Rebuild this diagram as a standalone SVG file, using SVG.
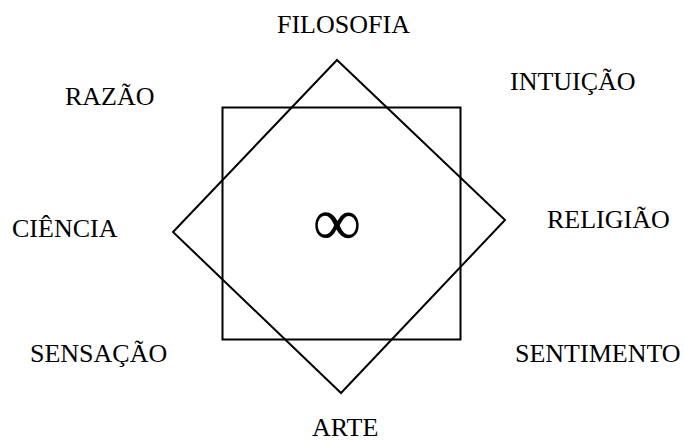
<svg xmlns="http://www.w3.org/2000/svg" width="684" height="441" viewBox="0 0 684 441">
<style>
.shape{fill:none;stroke:#000;stroke-width:2}
.lbl{font-family:"Liberation Serif","Times New Roman",serif;font-size:26px;fill:#000}
.inf{font-family:"Liberation Serif","Times New Roman",serif;font-size:68px;fill:#000;text-anchor:middle}
</style>
<rect width="684" height="441" fill="#fff"/>
<g id="shapes">
<rect id="square" class="shape" x="222.5" y="107.5" width="238" height="232"/>
<polygon id="diamond" class="shape" points="337,60 505,220 341,393 173,232"/>
</g>
<g id="center"><text class="inf" x="337" y="245">∞</text></g>
<g id="labels">
<text id="filosofia" class="lbl" x="277" y="33">FILOSOFIA</text>
<text id="razao" class="lbl" x="65" y="105">RAZÃO</text>
<text id="intuicao" class="lbl" x="510" y="90">INTUIÇÃO</text>
<text id="ciencia" class="lbl" x="12" y="237">CIÊNCIA</text>
<text id="religiao" class="lbl" x="547" y="228">RELIGIÃO</text>
<text id="sensacao" class="lbl" x="30" y="362">SENSAÇÃO</text>
<text id="sentimento" class="lbl" x="515" y="362">SENTIMENTO</text>
<text id="arte" class="lbl" x="312" y="436">ARTE</text>
</g>
</svg>
